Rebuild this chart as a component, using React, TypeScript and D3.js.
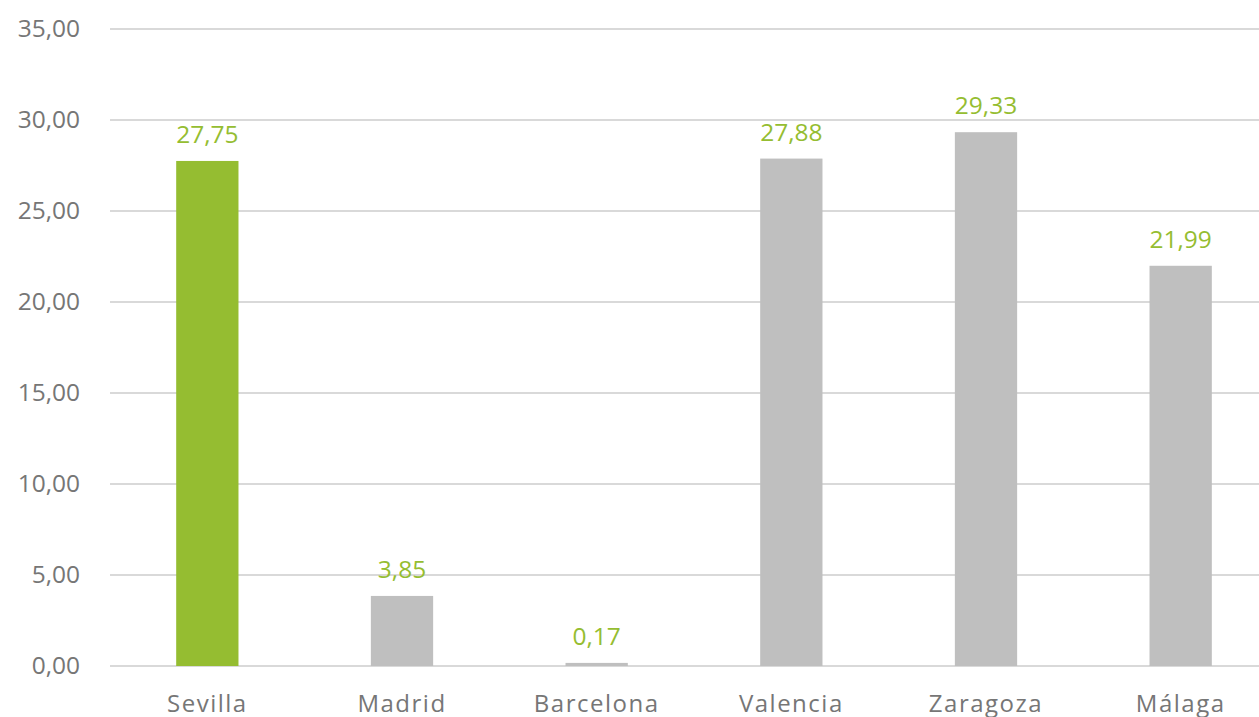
import { useRef, useEffect } from 'react';
import { select, scaleBand, scaleLinear } from 'd3';

const cities = ['Sevilla', 'Madrid', 'Barcelona', 'Valencia', 'Zaragoza', 'Málaga'];
const values = [27.75, 3.85, 0.17, 27.88, 29.33, 21.99];
const yTicks = [0, 5, 10, 15, 20, 25, 30, 35];
const highlight = 'Sevilla';

const W = 1259;
const H = 717;
const fmt = (v: number) => v.toFixed(2).replace('.', ',');

export default function App() {
  const ref = useRef<SVGSVGElement | null>(null);

  useEffect(() => {
    if (!ref.current) return;
    const svg = select(ref.current);
    svg.selectAll('*').remove();

    const font = '"Open Sans", "Noto Sans", sans-serif';
    const x = scaleBand<string>().domain(cities).range([110, 1278]).paddingInner(0.68).paddingOuter(0.34);
    const y = scaleLinear().domain([0, 35]).range([666, 29]);

    // gridlines
    svg
      .append('g')
      .selectAll('line')
      .data(yTicks)
      .join('line')
      .attr('x1', 110)
      .attr('x2', W)
      .attr('y1', d => y(d))
      .attr('y2', d => y(d))
      .attr('stroke', '#d9d9d9')
      .attr('stroke-width', 2);

    // y labels
    svg
      .append('g')
      .selectAll('text')
      .data(yTicks)
      .join('text')
      .attr('x', 80)
      .attr('y', d => y(d) + 8)
      .attr('text-anchor', 'end')
      .attr('font-family', font)
      .attr('font-size', 24.5)
      .attr('fill', '#767676')
      .text(d => fmt(d));

    const data = cities.map((c, i) => ({ c, v: values[i] }));

    svg
      .append('g')
      .selectAll('rect')
      .data(data)
      .join('rect')
      .attr('x', d => x(d.c)!)
      .attr('y', d => y(d.v))
      .attr('width', x.bandwidth())
      .attr('height', d => y(0) - y(d.v))
      .attr('fill', d => (d.c === highlight ? '#95bd31' : '#bfbfbf'));

    svg
      .append('g')
      .selectAll('text')
      .data(data)
      .join('text')
      .attr('x', d => x(d.c)! + x.bandwidth() / 2)
      .attr('y', d => y(d.v) - 18)
      .attr('text-anchor', 'middle')
      .attr('font-family', font)
      .attr('font-size', 24.5)
      .attr('fill', '#95bd31')
      .text(d => fmt(d.v));

    svg
      .append('g')
      .selectAll('text')
      .data(cities)
      .join('text')
      .attr('x', d => x(d)! + x.bandwidth() / 2)
      .attr('y', 712)
      .attr('text-anchor', 'middle')
      .attr('font-family', font)
      .attr('font-size', 24)
      .attr('letter-spacing', 1.5)
      .attr('fill', '#767676')
      .text(d => d);
  }, []);

  return (
    <svg
      ref={ref}
      width={W}
      height={H}
      style={{ position: 'absolute', left: 0, top: 0, background: '#fff' }}
    />
  );
}
